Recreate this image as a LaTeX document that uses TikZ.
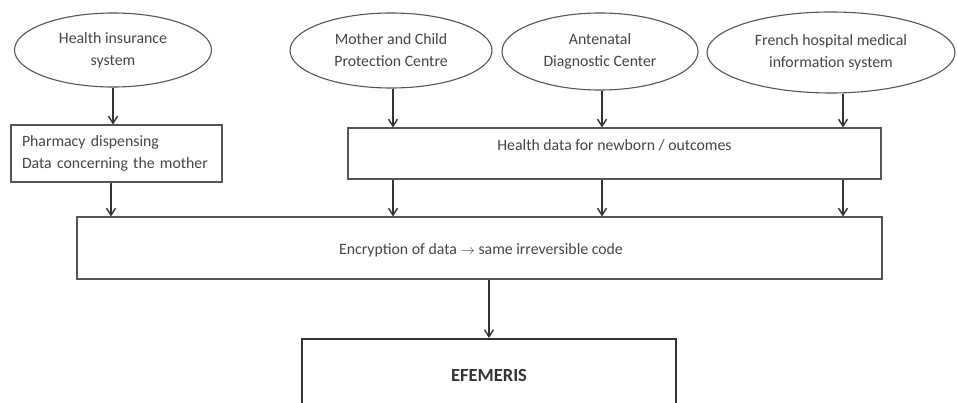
\documentclass[tikz,border=0pt]{standalone}
\usepackage{fontspec}
\setmainfont{Carlito}
\usetikzlibrary{shapes.geometric,arrows.meta}
\definecolor{ln}{HTML}{555555}
\definecolor{arrc}{HTML}{333333}
\definecolor{txt}{HTML}{444444}
\begin{document}
\begin{tikzpicture}[x=1pt,y=-1pt,
  lbl/.style={text=txt, font=\fontsize{15.8}{22}\selectfont},
  oval/.style={ellipse, draw=ln, line width=1.1pt, inner sep=0pt, align=center, lbl},
  boxr/.style={draw=ln, line width=1.1pt, rectangle, inner sep=0pt},
  arr/.style={draw=arrc, line width=1.4pt, -{Straight Barb[length=7pt,width=9pt]}}
]
\useasboundingbox (0,0) rectangle (957,403);
\clip (0,0) rectangle (957,403);

% sources
\node[oval, minimum width=197pt, minimum height=74pt] (his) at (113,50) {Health insurance\\system};
\node[oval, minimum width=202pt, minimum height=75pt] (mcp) at (391,50.5) {Mother and Child\\Protection Centre};
\node[oval, minimum width=196pt, minimum height=77pt] (adc) at (600,51.5) {Antenatal\\Diagnostic Center};
\node[oval, minimum width=248pt, minimum height=81pt] (fhm) at (831,52.5) {French hospital medical\\information system};

% intermediate boxes
\node[boxr, lbl, minimum width=211pt, minimum height=57pt, inner xsep=11pt, text width=189pt, align=left] (pharm) at (116.5,153.5) {Pharmacy dispensing\\Data concerning the mother};
\node[boxr, minimum width=533pt, minimum height=51pt] (hd) at (614.5,153.5) {};
\node[lbl] (hdt) at (614.5,145) {Health data for newborn / outcomes};

% encryption
\node[boxr, minimum width=805pt, minimum height=62pt] (enc) at (479.5,248) {};
\node[text=txt, font=\fontsize{15.8}{18}\selectfont] (enct) at (481,250) {Encryption of data $\rightarrow$ same irreversible code};

% EFEMERIS
\node[draw=arrc, line width=2pt, rectangle, minimum width=374pt, minimum height=120pt] (efe) at (489,399) {};
\node[text=arrc, font=\bfseries\fontsize{18.5}{22}\selectfont] (efet) at (489,375) {EFEMERIS};

\coordinate (c1) at (111,0);
\coordinate (c2) at (393,0);
\coordinate (c3) at (602,0);
\coordinate (c4) at (843,0);

% arrows into the middle row
\draw[arr] (his.south) -- (his.south |- pharm.north);
\draw[arr] (c2 |- mcp.south) -- (c2 |- hd.north);
\draw[arr] (c3 |- adc.south) -- (c3 |- hd.north);
\draw[arr] (c4 |- fhm.south) -- (c4 |- hd.north);

% arrows into encryption
\draw[arr] (c1 |- pharm.south) -- (c1 |- enc.north);
\draw[arr] (c2 |- hd.south) -- (c2 |- enc.north);
\draw[arr] (c3 |- hd.south) -- (c3 |- enc.north);
\draw[arr] (c4 |- hd.south) -- (c4 |- enc.north);

% arrow into EFEMERIS
\draw[arr] (efe.north |- enc.south) -- (efe.north);
\end{tikzpicture}
\end{document}
